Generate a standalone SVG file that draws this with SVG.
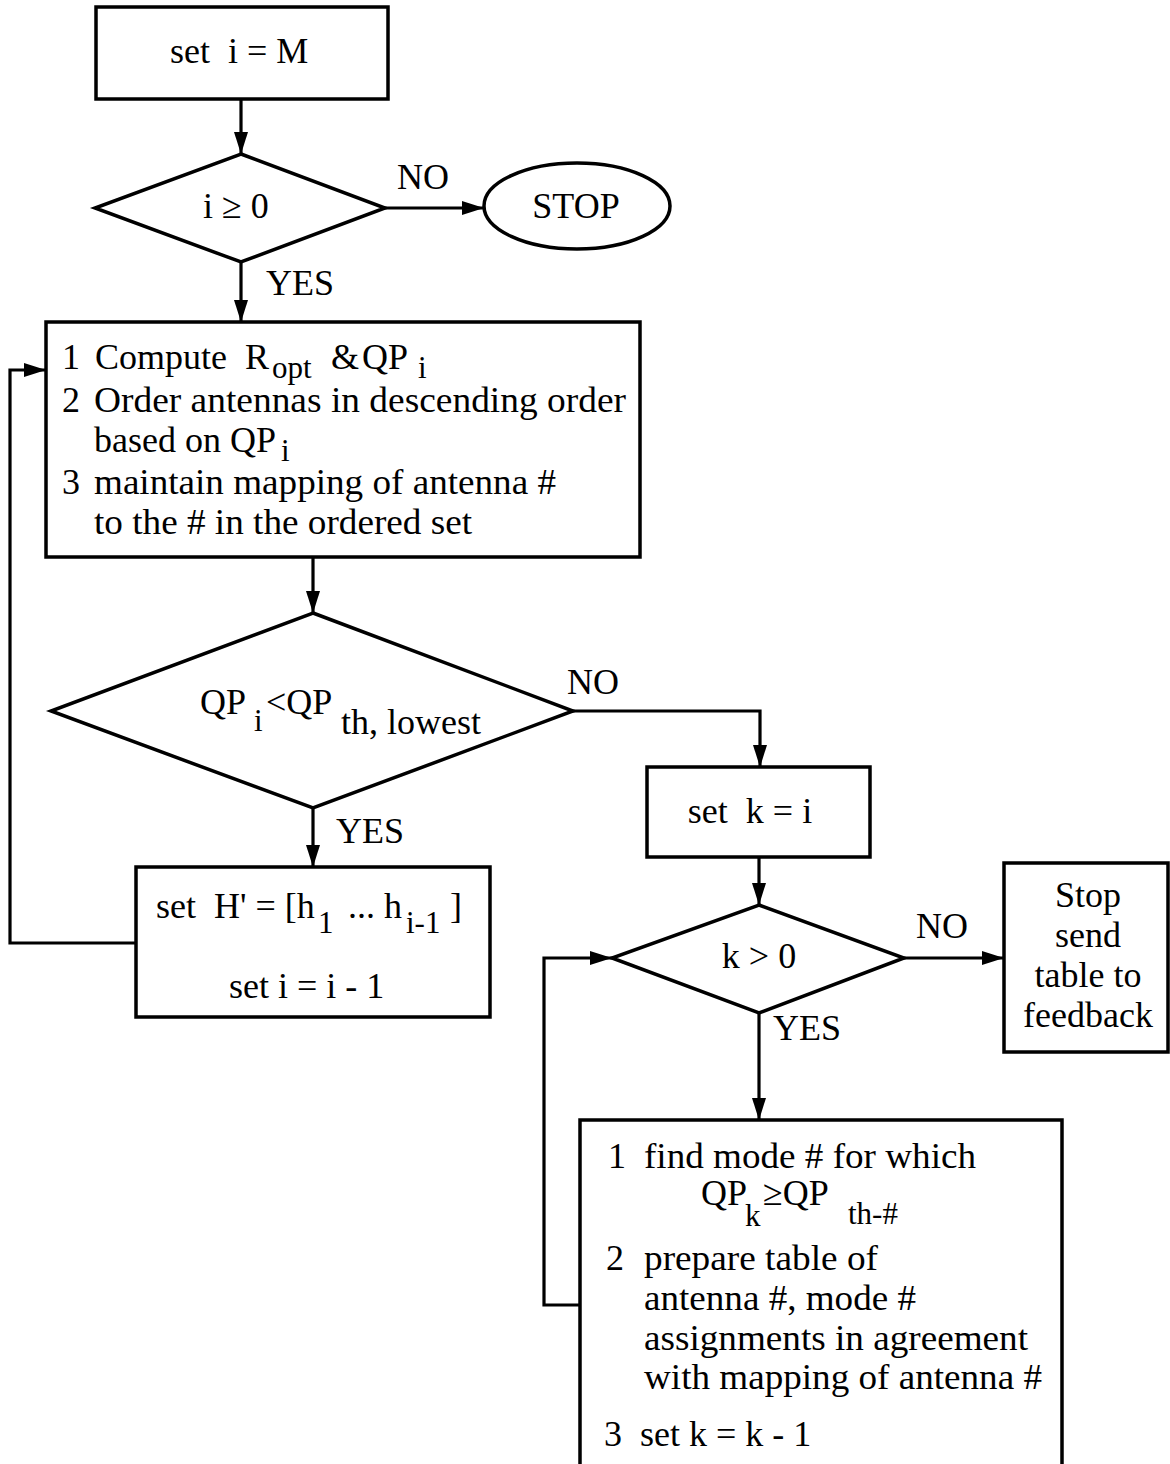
<svg xmlns="http://www.w3.org/2000/svg" width="1170" height="1464" viewBox="0 0 1170 1464">
  <style>
    text { font-family: "Liberation Serif", "Times New Roman", serif; font-size: 36px; fill: #000; white-space: pre; }
    .mid { text-anchor: middle; }
    .sub { font-size: 31px; }
    .shape { fill: #fff; stroke: #000; stroke-width: 3.5; }
    .link { fill: none; stroke: #000; stroke-width: 3.2; }
  </style>
  <defs>
    <marker id="arrow" viewBox="0 0 22 14" refX="22" refY="7" markerWidth="22" markerHeight="14" markerUnits="userSpaceOnUse" orient="auto">
      <path d="M0,0 L22,7 L0,14 z" fill="#000"/>
    </marker>
  </defs>
  <rect width="1170" height="1464" fill="#fff"/>

  <!-- connectors -->
  <g id="connectors">
    <line class="link" x1="241" y1="99" x2="241" y2="154" marker-end="url(#arrow)"/>
    <line class="link" x1="385" y1="208" x2="484" y2="208" marker-end="url(#arrow)"/>
    <line class="link" x1="241" y1="262" x2="241" y2="322" marker-end="url(#arrow)"/>
    <line class="link" x1="313" y1="557" x2="313" y2="613" marker-end="url(#arrow)"/>
    <line class="link" x1="313" y1="808" x2="313" y2="867" marker-end="url(#arrow)"/>
    <polyline class="link" points="136,943 10,943 10,370 46,370" marker-end="url(#arrow)"/>
    <polyline class="link" points="573,711 760,711 760,767" marker-end="url(#arrow)"/>
    <line class="link" x1="759" y1="857" x2="759" y2="905" marker-end="url(#arrow)"/>
    <line class="link" x1="904" y1="958" x2="1004" y2="958" marker-end="url(#arrow)"/>
    <line class="link" x1="759" y1="1013" x2="759" y2="1120" marker-end="url(#arrow)"/>
    <polyline class="link" points="580,1305 544,1305 544,958 612,958" marker-end="url(#arrow)"/>
    <text x="397" y="189">NO</text>
    <text x="266" y="295">YES</text>
    <text x="567" y="694">NO</text>
    <text x="336" y="843">YES</text>
    <text x="916" y="938">NO</text>
    <text x="773" y="1040">YES</text>
  </g>

  <!-- start -->
  <g id="init-i">
    <rect class="shape" x="96" y="7" width="292" height="92"/>
    <text x="170" y="63">set  i = M</text>
  </g>

  <g id="test-i">
    <polygon class="shape" points="241,154 385,208 241,262 95,208"/>
    <text class="mid" x="236" y="218">i ≥ 0</text>
  </g>

  <g id="stop">
    <ellipse class="shape" cx="577" cy="206" rx="93" ry="43"/>
    <text class="mid" x="576" y="218">STOP</text>
  </g>

  <!-- ordering step -->
  <g id="order-antennas">
    <rect class="shape" x="46" y="322" width="594" height="235"/>
    <text x="62" y="369">1</text>
    <text x="95" y="369">Compute</text>
    <text x="245" y="369">R</text>
    <text class="sub" x="272" y="378">opt</text>
    <text x="331" y="369">&amp;</text>
    <text x="362" y="369">QP</text>
    <text class="sub" x="418" y="378">i</text>
    <text x="62" y="412">2</text>
    <text x="94" y="412" textLength="532" lengthAdjust="spacingAndGlyphs">Order antennas in descending order</text>
    <text x="94" y="452">based on QP</text>
    <text class="sub" x="281" y="461">i</text>
    <text x="62" y="494">3</text>
    <text x="94" y="494" textLength="462" lengthAdjust="spacingAndGlyphs">maintain mapping of antenna #</text>
    <text x="94" y="534" textLength="378" lengthAdjust="spacingAndGlyphs">to the # in the ordered set</text>
  </g>

  <g id="test-threshold">
    <polygon class="shape" points="313,613 573,711 313,808 51,711"/>
    <text x="200" y="714">QP</text>
    <text class="sub" x="254" y="731">i</text>
    <text x="266" y="714">&lt;QP</text>
    <text x="341" y="734">th, lowest</text>
  </g>

  <g id="drop-antenna">
    <rect class="shape" x="136" y="867" width="354" height="150"/>
    <text x="156" y="918">set  H' = [h</text>
    <text class="sub" x="318" y="933">1</text>
    <text x="348" y="918">... h</text>
    <text class="sub" x="406" y="933">i-1</text>
    <text x="450" y="918">]</text>
    <text x="229" y="998">set i = i - 1</text>
  </g>

  <g id="init-k">
    <rect class="shape" x="647" y="767" width="223" height="90"/>
    <text class="mid" x="750" y="823">set  k = i</text>
  </g>

  <g id="test-k">
    <polygon class="shape" points="759,905 904,958 759,1013 612,958"/>
    <text class="mid" x="759" y="968">k &gt; 0</text>
  </g>

  <g id="send-table">
    <rect class="shape" x="1004" y="863" width="164" height="189"/>
    <text class="mid" x="1088" y="907">Stop</text>
    <text class="mid" x="1088" y="947">send</text>
    <text class="mid" x="1088" y="987">table to</text>
    <text class="mid" x="1088" y="1027">feedback</text>
  </g>

  <!-- mode assignment step -->
  <g id="assign-modes">
    <path class="shape" d="M580,1470 L580,1120 L1062,1120 L1062,1470"/>
    <text x="608" y="1168">1</text>
    <text x="644" y="1168" textLength="332" lengthAdjust="spacingAndGlyphs">find mode # for which</text>
    <text x="701" y="1205">QP</text>
    <text class="sub" x="745" y="1226">k</text>
    <text x="763" y="1205">≥QP</text>
    <text class="sub" x="848" y="1224">th-#</text>
    <text x="606" y="1270">2</text>
    <text x="644" y="1270" textLength="234" lengthAdjust="spacingAndGlyphs">prepare table of</text>
    <text x="644" y="1310" textLength="272" lengthAdjust="spacingAndGlyphs">antenna #, mode #</text>
    <text x="644" y="1350" textLength="384" lengthAdjust="spacingAndGlyphs">assignments in agreement</text>
    <text x="644" y="1389" textLength="398" lengthAdjust="spacingAndGlyphs">with mapping of antenna #</text>
    <text x="604" y="1446">3</text>
    <text x="640" y="1446">set k = k - 1</text>
  </g>
</svg>
